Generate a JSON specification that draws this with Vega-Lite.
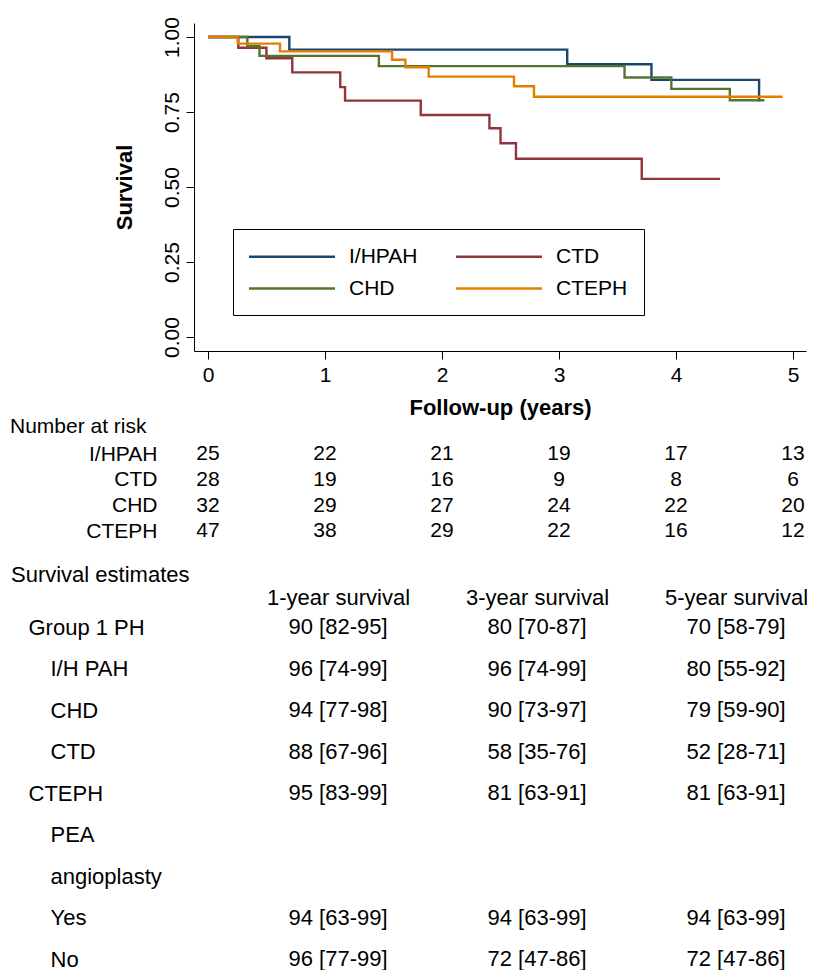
{
  "$schema": "https://vega.github.io/schema/vega-lite/v6.json",
  "background": "white",
  "padding": {"left": 10, "top": 16, "right": 0, "bottom": 0},
  "bounds": "flush",
  "spacing": 90,
  "config": {
    "font": "Liberation Sans",
    "view": {"stroke": null},
    "axis": {"labelColor": "black", "titleColor": "black", "domainColor": "black", "tickColor": "black", "grid": false}
  },
  "datasets": {
    "km": [
      {"group": "I/HPAH", "t": 0, "s": 1},
      {"group": "I/HPAH", "t": 0.695, "s": 0.958},
      {"group": "I/HPAH", "t": 3.07, "s": 0.909},
      {"group": "I/HPAH", "t": 3.79, "s": 0.857},
      {"group": "I/HPAH", "t": 4.71, "s": 0.789},
      {"group": "I/HPAH", "t": 4.72, "s": 0.789},
      {"group": "CTD", "t": 0, "s": 1},
      {"group": "CTD", "t": 0.259, "s": 0.964},
      {"group": "CTD", "t": 0.499, "s": 0.929},
      {"group": "CTD", "t": 0.72, "s": 0.882},
      {"group": "CTD", "t": 1.13, "s": 0.833},
      {"group": "CTD", "t": 1.171, "s": 0.788},
      {"group": "CTD", "t": 1.818, "s": 0.74},
      {"group": "CTD", "t": 2.405, "s": 0.696},
      {"group": "CTD", "t": 2.5, "s": 0.646},
      {"group": "CTD", "t": 2.632, "s": 0.594},
      {"group": "CTD", "t": 3.707, "s": 0.527},
      {"group": "CTD", "t": 4.376, "s": 0.527},
      {"group": "CHD", "t": 0, "s": 1},
      {"group": "CHD", "t": 0.336, "s": 0.969},
      {"group": "CHD", "t": 0.44, "s": 0.937},
      {"group": "CHD", "t": 1.46, "s": 0.903},
      {"group": "CHD", "t": 3.56, "s": 0.865},
      {"group": "CHD", "t": 3.96, "s": 0.827},
      {"group": "CHD", "t": 4.46, "s": 0.789},
      {"group": "CHD", "t": 4.755, "s": 0.789},
      {"group": "CTEPH", "t": 0, "s": 1},
      {"group": "CTEPH", "t": 0.254, "s": 0.978},
      {"group": "CTEPH", "t": 0.615, "s": 0.952},
      {"group": "CTEPH", "t": 1.573, "s": 0.924},
      {"group": "CTEPH", "t": 1.687, "s": 0.899},
      {"group": "CTEPH", "t": 1.886, "s": 0.868},
      {"group": "CTEPH", "t": 2.615, "s": 0.836},
      {"group": "CTEPH", "t": 2.786, "s": 0.801},
      {"group": "CTEPH", "t": 4.91, "s": 0.801}
    ],
    "atrisk": [
      {"group": "I/HPAH", "t": 0, "n": 25}, {"group": "I/HPAH", "t": 1, "n": 22}, {"group": "I/HPAH", "t": 2, "n": 21},
      {"group": "I/HPAH", "t": 3, "n": 19}, {"group": "I/HPAH", "t": 4, "n": 17}, {"group": "I/HPAH", "t": 5, "n": 13},
      {"group": "CTD", "t": 0, "n": 28}, {"group": "CTD", "t": 1, "n": 19}, {"group": "CTD", "t": 2, "n": 16},
      {"group": "CTD", "t": 3, "n": 9}, {"group": "CTD", "t": 4, "n": 8}, {"group": "CTD", "t": 5, "n": 6},
      {"group": "CHD", "t": 0, "n": 32}, {"group": "CHD", "t": 1, "n": 29}, {"group": "CHD", "t": 2, "n": 27},
      {"group": "CHD", "t": 3, "n": 24}, {"group": "CHD", "t": 4, "n": 22}, {"group": "CHD", "t": 5, "n": 20},
      {"group": "CTEPH", "t": 0, "n": 47}, {"group": "CTEPH", "t": 1, "n": 38}, {"group": "CTEPH", "t": 2, "n": 29},
      {"group": "CTEPH", "t": 3, "n": 22}, {"group": "CTEPH", "t": 4, "n": 16}, {"group": "CTEPH", "t": 5, "n": 12}
    ],
    "estimates": [
      {"row": "Group 1 PH", "horizon": "1-year survival", "est": "90 [82-95]"},
      {"row": "Group 1 PH", "horizon": "3-year survival", "est": "80 [70-87]"},
      {"row": "Group 1 PH", "horizon": "5-year survival", "est": "70 [58-79]"},
      {"row": "I/H PAH", "horizon": "1-year survival", "est": "96 [74-99]"},
      {"row": "I/H PAH", "horizon": "3-year survival", "est": "96 [74-99]"},
      {"row": "I/H PAH", "horizon": "5-year survival", "est": "80 [55-92]"},
      {"row": "CHD", "horizon": "1-year survival", "est": "94 [77-98]"},
      {"row": "CHD", "horizon": "3-year survival", "est": "90 [73-97]"},
      {"row": "CHD", "horizon": "5-year survival", "est": "79 [59-90]"},
      {"row": "CTD", "horizon": "1-year survival", "est": "88 [67-96]"},
      {"row": "CTD", "horizon": "3-year survival", "est": "58 [35-76]"},
      {"row": "CTD", "horizon": "5-year survival", "est": "52 [28-71]"},
      {"row": "CTEPH", "horizon": "1-year survival", "est": "95 [83-99]"},
      {"row": "CTEPH", "horizon": "3-year survival", "est": "81 [63-91]"},
      {"row": "CTEPH", "horizon": "5-year survival", "est": "81 [63-91]"},
      {"row": "Yes", "horizon": "1-year survival", "est": "94 [63-99]"},
      {"row": "Yes", "horizon": "3-year survival", "est": "94 [63-99]"},
      {"row": "Yes", "horizon": "5-year survival", "est": "94 [63-99]"},
      {"row": "No", "horizon": "1-year survival", "est": "96 [77-99]"},
      {"row": "No", "horizon": "3-year survival", "est": "72 [47-86]"},
      {"row": "No", "horizon": "5-year survival", "est": "72 [47-86]"}
    ]
  },
  "vconcat": [
    {
      "width": 612,
      "height": 328,
      "data": {"name": "km"},
      "mark": {"type": "line", "interpolate": "step-after", "strokeWidth": 2.4},
      "encoding": {
        "x": {
          "field": "t", "type": "quantitative",
          "scale": {"domain": [-0.12, 5.111], "nice": false, "zero": false},
          "axis": {"values": [0, 1, 2, 3, 4, 5], "format": "d", "title": "Follow-up (years)", "labelFontSize": 21, "labelPadding": 5, "tickSize": 8, "titleFontSize": 22, "titleFontWeight": "bold", "titlePadding": 12, "labelFlush": false}
        },
        "y": {
          "field": "s", "type": "quantitative",
          "scale": {"domain": [-0.0467, 1.0467], "nice": false, "zero": false},
          "axis": {"values": [0, 0.25, 0.5, 0.75, 1], "format": ".2f", "title": "Survival", "labelAngle": 270, "labelAlign": "center", "labelBaseline": "bottom", "labelFontSize": 21, "labelPadding": 4, "tickSize": 8, "titleFontSize": 22, "titleFontWeight": "bold", "titlePadding": 25}
        },
        "color": {
          "field": "group", "type": "nominal",
          "scale": {"domain": ["I/HPAH", "CTD", "CHD", "CTEPH"], "range": ["#1a476f", "#90353b", "#55752f", "#e37e00"]},
          "legend": {"title": null, "orient": "none", "direction": "horizontal", "legendX": 39, "legendY": 206, "columns": 2, "symbolType": "M-1.15,0H7.45", "symbolSize": 400, "symbolStrokeWidth": 2.5, "labelFontSize": 21, "labelColor": "black", "labelOffset": 77, "columnPadding": 33, "rowPadding": 10, "padding": 16, "strokeColor": "black"}
        }
      }
    },
    {
      "width": 612,
      "height": 96,
      "data": {"name": "atrisk"},
      "title": {"text": "Number at risk", "anchor": "start", "frame": "group", "dx": -184, "offset": -17, "fontSize": 21, "fontWeight": "normal", "baseline": "bottom", "color": "black"},
      "mark": {"type": "text", "fontSize": 21, "color": "black"},
      "encoding": {
        "x": {"field": "t", "type": "quantitative", "scale": {"domain": [-0.12, 5.111], "nice": false, "zero": false}, "axis": null},
        "y": {
          "field": "group", "type": "nominal",
          "scale": {"type": "point", "domain": ["I/HPAH", "CTD", "CHD", "CTEPH"], "padding": 0.375, "align": 0.693},
          "axis": {"title": null, "domain": false, "ticks": false, "tickSize": 0, "labelPadding": 37, "labelFontSize": 21, "labelAlign": "right", "labelBaseline": "middle"}
        },
        "text": {"field": "n", "type": "quantitative"}
      }
    },
    {
      "width": 612,
      "height": 332,
      "data": {"name": "estimates"},
      "title": {"text": "Survival estimates", "anchor": "start", "frame": "group", "dx": -183, "offset": -22, "fontSize": 22, "fontWeight": "normal", "baseline": "bottom", "color": "black"},
      "mark": {"type": "text", "fontSize": 22, "color": "black"},
      "encoding": {
        "x": {
          "field": "horizon", "type": "nominal",
          "scale": {"type": "point", "domain": ["1-year survival", "3-year survival", "5-year survival"], "padding": 0.5377, "align": 0.673},
          "axis": {"orient": "top", "title": null, "domain": false, "ticks": false, "tickSize": 0, "labelPadding": 17.5, "labelFontSize": 22, "labelAngle": 0}
        },
        "y": {
          "field": "row", "type": "nominal",
          "scale": {"type": "point", "domain": ["Group 1 PH", "I/H PAH", "CHD", "CTD", "CTEPH", "PEA", "angioplasty", "Yes", "No"], "padding": 0},
          "axis": {
            "title": null, "domain": false, "ticks": false, "tickSize": 0, "labelAlign": "left", "labelBaseline": "middle", "labelFontSize": 22, "labelLimit": 300,
            "labelPadding": {"condition": {"test": "datum.value === 'Group 1 PH' || datum.value === 'CTEPH'", "value": 166}, "value": 144}
          }
        },
        "text": {"field": "est", "type": "nominal"}
      }
    }
  ],
  "resolve": {"scale": {"x": "independent", "y": "independent", "color": "independent"}}
}
